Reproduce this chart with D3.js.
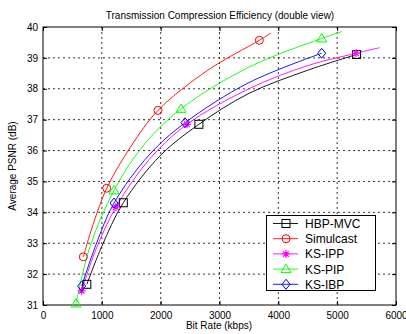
<!DOCTYPE html>
<html><head><meta charset="utf-8">
<script src="https://cdn.jsdelivr.net/npm/d3@7"></script>
<style>body{margin:0;background:#fff}svg{display:block;font-family:"Liberation Sans",Arial,sans-serif}</style>
</head><body><svg id="c" width="406" height="334"></svg>
<script>
const seriesNames = ["HBP-MVC","Simulcast","KS-IPP","KS-PIP","KS-IBP"];
const seriesColors = ["#000000","#ff0000","#ff00ff","#00ff00","#0000ff"];
const seriesMarkers = ["square","circle","star","triangle","diamond"];
// marker points [kbps, dB]
const hbpMarkers = [[745,31.67],[1365,34.31],[2650,36.85],[5330,39.11]];
const simMarkers = [[685,32.56],[1083,34.78],[1955,37.3],[3677,39.57]];
const ippMarkers = [[657,31.46],[1241,34.17],[2448,36.85],[5320,39.15]];
const pipMarkers = [[561,31.05],[1207,34.71],[2346,37.35],[4737,39.63]];
const ibpMarkers = [[657,31.61],[1207,34.30],[2414,36.9],[4737,39.15]];
// curve paths (include the tails beyond the last marker)
const hbpLine = [[745,31.67],[1000,32.9],[1365,34.31],[2000,35.85],[2650,36.85],[3500,37.85],[4500,38.6],[5330,39.11]];
const simLine = [[685,32.56],[850,33.6],[1083,34.78],[1500,36.15],[1955,37.3],[2800,38.6],[3677,39.57],[3870,39.8]];
const ippLine = [[657,31.46],[900,32.8],[1241,34.17],[1800,35.7],[2448,36.85],[3500,38.0],[4500,38.75],[5320,39.15],[5720,39.33]];
const pipLine = [[561,31.05],[800,32.9],[1207,34.71],[1700,36.15],[2346,37.35],[3500,38.7],[4737,39.63],[5080,39.85]];
const ibpLine = [[657,31.61],[900,32.95],[1207,34.30],[1800,35.85],[2414,36.9],[3500,38.2],[4737,39.15]];
const xTicks = [0,1000,2000,3000,4000,5000,6000];
const yTicks = [31,32,33,34,35,36,37,38,39,40];

const markerSets = [hbpMarkers, simMarkers, ippMarkers, pipMarkers, ibpMarkers];
const lineSets = [hbpLine, simLine, ippLine, pipLine, ibpLine];

const svg = d3.select("#c");
const L=43, R=396, T=27, B=305;
const x = d3.scaleLinear().domain([0,6000]).range([L,R]);
const y = d3.scaleLinear().domain([31,40]).range([B,T]);

// grid
const g = svg.append("g");
g.selectAll(".gx").data(xTicks.slice(1,-1)).enter().append("line")
  .attr("x1",d=>x(d)).attr("x2",d=>x(d)).attr("y1",T).attr("y2",B)
  .attr("stroke","#000").attr("stroke-width",0.8).attr("stroke-dasharray","2,3");
g.selectAll(".gy").data(yTicks.slice(1,-1)).enter().append("line")
  .attr("y1",d=>y(d)).attr("y2",d=>y(d)).attr("x1",L).attr("x2",R)
  .attr("stroke","#000").attr("stroke-width",0.8).attr("stroke-dasharray","2,3");

// axes
const xa = svg.append("g").attr("transform",`translate(0,${B})`)
  .call(d3.axisBottom(x).tickValues(xTicks).tickSize(-4).tickPadding(7).tickFormat(d3.format("d")));
const ya = svg.append("g").attr("transform",`translate(${L},0)`)
  .call(d3.axisLeft(y).tickValues(yTicks).tickSize(-4).tickPadding(5).tickFormat(d3.format("d")));
svg.append("g").attr("transform",`translate(0,${T})`)
  .call(d3.axisTop(x).tickValues(xTicks).tickSize(-4).tickFormat(""));
svg.append("g").attr("transform",`translate(${R},0)`)
  .call(d3.axisRight(y).tickValues(yTicks).tickSize(-4).tickFormat(""));
svg.selectAll(".domain").remove();
svg.selectAll(".tick line").attr("stroke","#000");
svg.selectAll(".tick text").attr("font-size",10).attr("fill","#000").attr("font-family","Liberation Sans,Arial,sans-serif");
svg.append("rect").attr("x",L).attr("y",T).attr("width",R-L).attr("height",B-T)
  .attr("fill","none").attr("stroke","#000").attr("stroke-width",1);

// curves
const line = d3.line().x(d=>x(d[0])).y(d=>y(d[1])).curve(d3.curveCatmullRom.alpha(0.5));
const plot = svg.append("g");
lineSets.forEach((pts,i)=>{
  plot.append("path").attr("d",line(pts)).attr("fill","none")
    .attr("stroke",seriesColors[i]).attr("stroke-width",0.9);
});

function marker(sel, type, color, cx, cy){
  const s=4;
  if(type==="square") sel.append("rect").attr("x",cx-s).attr("y",cy-s).attr("width",2*s).attr("height",2*s).attr("fill","none").attr("stroke",color);
  else if(type==="circle") sel.append("circle").attr("cx",cx).attr("cy",cy).attr("r",s).attr("fill","none").attr("stroke",color);
  else if(type==="triangle") sel.append("path").attr("d",`M${cx},${cy-s-1}L${cx+s+1},${cy+s-0.5}L${cx-s-1},${cy+s-0.5}Z`).attr("fill","none").attr("stroke",color);
  else if(type==="diamond") sel.append("path").attr("d",`M${cx},${cy-s-1}L${cx+s},${cy}L${cx},${cy+s+1}L${cx-s},${cy}Z`).attr("fill","none").attr("stroke",color);
  else if(type==="star"){
    const p = d3.path();
    for(let k=0;k<4;k++){const a=k*Math.PI/4;p.moveTo(cx-s*Math.cos(a),cy-s*Math.sin(a));p.lineTo(cx+s*Math.cos(a),cy+s*Math.sin(a));}
    sel.append("path").attr("d",p.toString()).attr("fill","none").attr("stroke",color).attr("stroke-width",1.2);
  }
}
markerSets.forEach((pts,i)=>{
  pts.forEach(p=>marker(plot, seriesMarkers[i], seriesColors[i], x(p[0]), y(p[1])));
});

// legend
const lg = svg.append("g");
lg.append("rect").attr("x",266.5).attr("y",215.5).attr("width",109).attr("height",75).attr("fill","#fff").attr("stroke","#000");
seriesNames.forEach((n,i)=>{
  const yy = 223.5 + i*15.2;
  lg.append("line").attr("x1",273).attr("x2",298).attr("y1",yy).attr("y2",yy).attr("stroke",seriesColors[i]).attr("stroke-width",0.9);
  marker(lg, seriesMarkers[i], seriesColors[i], 286, yy);
  lg.append("text").attr("x",305).attr("y",yy+4.5).attr("font-size",12).text(n);
});

// titles
svg.append("text").attr("x",220).attr("y",19).attr("text-anchor","middle").attr("font-size",10).text("Transmission Compression Efficiency (double view)");
svg.append("text").attr("x",219).attr("y",329).attr("text-anchor","middle").attr("font-size",10).text("Bit Rate (kbps)");
svg.append("text").attr("transform","translate(16,166) rotate(-90)").attr("text-anchor","middle").attr("font-size",10).text("Average PSNR (dB)");
</script></body></html>
